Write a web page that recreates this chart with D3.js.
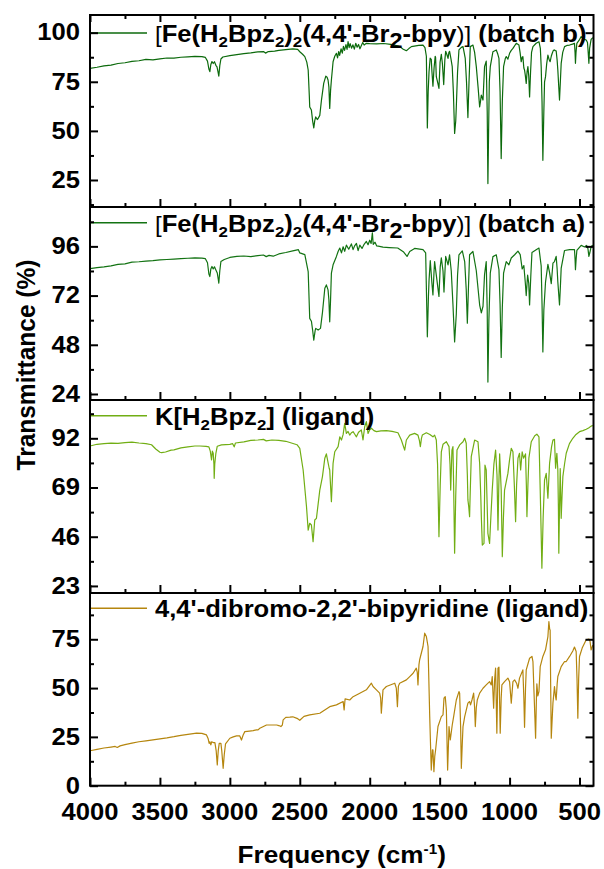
<!DOCTYPE html>
<html>
<head>
<meta charset="utf-8">
<script src="https://cdn.jsdelivr.net/npm/d3@7"></script>
<style>
  html, body { margin: 0; padding: 0; background: #fff; }
  svg { display: block; }
  text { font-family: "Liberation Sans", Arial, Helvetica, sans-serif; font-weight: bold; fill: #000; }
</style>
</head>
<body>
<svg id="chart" width="604" height="869"></svg>
<script>
// IR spectra: [wavenumber (cm-1), transmittance (%)]
const feBatchB = [
  [4000,81.8],[3950,82.4],[3900,83.1],[3850,83.5],[3800,84.3],[3750,84.7],[3700,85.4],[3650,85.7],[3600,86.4],[3550,86.2],
  [3500,86.7],[3450,87.1],[3400,87.0],[3350,87.5],[3300,87.7],[3250,87.9],[3200,87.8],[3175,87.4],[3160,85.5],[3150,81.5],
  [3143,80.2],[3136,83.8],[3128,85.3],[3119,84.3],[3110,85.2],[3100,83.4],[3092,82.6],[3085,80.2],[3079,77.9],[3072,83.2],
  [3064,86.6],[3050,87.6],[3000,88.3],[2950,88.8],[2900,89.3],[2850,89.7],[2800,90.2],[2760,90.4],[2745,89.6],[2725,90.4],
  [2680,90.6],[2650,91.0],[2600,91.4],[2550,91.8],[2515,91.5],[2500,90.3],[2480,89.0],[2464,87.8],[2450,85.0],[2440,81.0],
  [2432,68.0],[2429,62.2],[2420,61.0],[2417,60.6],[2408,55.0],[2400,51.5],[2393,55.2],[2386,57.1],[2375,55.8],[2369,56.3],
  [2357,57.9],[2345,65.7],[2329,74.2],[2314,77.9],[2305,77.3],[2298,75.9],[2292,72.4],[2286,61.4],[2280,70.5],[2274,75.9],
  [2262,85.2],[2250,88.0],[2238,89.5],[2230,87.2],[2222,90.4],[2215,88.4],[2205,91.8],[2196,89.6],[2188,93.0],[2180,91.0],
  [2170,93.9],[2162,91.5],[2155,95.4],[2147,92.4],[2140,94.4],[2130,92.1],[2120,93.8],[2110,91.6],[2100,94.6],[2090,92.6],
  [2080,94.0],[2070,91.8],[2062,93.1],[2050,95.0],[2040,93.7],[2024,94.6],[2000,94.4],[1950,94.3],[1900,94.5],[1850,94.0],
  [1800,93.3],[1786,92.9],[1760,91.6],[1738,90.8],[1720,91.9],[1702,92.9],[1650,93.5],[1619,93.7],[1605,92.4],[1595,88.0],
  [1588,51.5],[1582,70.0],[1576,80.0],[1568,87.0],[1560,86.4],[1555,80.0],[1548,72.8],[1540,82.0],[1532,88.0],[1529,87.4],
  [1524,77.6],[1515,75.0],[1505,71.6],[1497,85.0],[1488,89.0],[1480,84.0],[1471,73.6],[1463,86.0],[1457,90.5],[1449,89.0],
  [1440,86.9],[1434,90.0],[1429,90.5],[1420,87.0],[1410,82.7],[1402,70.0],[1393,48.7],[1385,55.0],[1381,62.0],[1372,80.0],
  [1362,91.2],[1345,92.5],[1333,92.9],[1325,90.0],[1317,86.9],[1308,75.0],[1298,56.8],[1290,75.0],[1281,92.9],[1262,93.7],
  [1250,90.0],[1238,82.7],[1225,72.0],[1214,62.2],[1208,65.0],[1202,68.2],[1196,67.0],[1190,65.7],[1184,75.0],[1179,82.7],
  [1167,85.5],[1160,60.0],[1155,23.2],[1150,50.0],[1145,75.0],[1138,82.7],[1119,90.3],[1095,91.2],[1084,89.0],[1076,86.9],
  [1068,70.0],[1060,35.9],[1052,65.0],[1043,82.7],[1030,87.0],[1024,87.8],[1012,86.5],[1000,89.5],[988,91.0],[976,92.0],
  [952,94.6],[933,93.7],[925,90.0],[917,85.2],[910,87.5],[905,87.8],[898,82.0],[893,81.0],[887,78.0],[881,74.2],
  [875,80.0],[869,82.7],[863,78.0],[857,67.3],[850,80.0],[843,90.0],[833,92.9],[810,94.6],[790,95.4],[780,92.0],
  [774,82.7],[768,65.0],[762,35.0],[755,60.0],[750,75.0],[743,77.6],[735,84.0],[726,88.6],[718,86.5],[710,85.2],
  [702,88.0],[695,89.5],[687,91.0],[679,91.2],[673,90.8],[667,90.8],[660,86.0],[655,81.0],[648,72.0],[643,65.7],
  [637,75.0],[631,84.4],[620,90.0],[607,92.9],[590,93.5],[571,93.7],[550,94.2],[536,94.6],[532,90.0],[529,84.4],
  [525,90.0],[519,94.6],[500,96.5],[488,98.0],[475,97.0],[464,96.6],[452,96.3],[443,95.0],[438,90.0],[433,84.4],
  [428,92.0],[417,96.6],[405,97.5]
];

const feBatchA = [
  [4000,85.1],[3950,85.6],[3900,86.0],[3850,86.5],[3800,87.2],[3750,87.5],[3700,88.3],[3650,88.5],[3600,88.8],[3550,89.0],
  [3500,89.4],[3450,89.6],[3400,89.8],[3350,90.0],[3300,90.2],[3250,90.4],[3200,90.3],[3175,90.0],[3160,88.0],[3150,82.5],
  [3143,81.3],[3136,85.0],[3128,86.2],[3119,85.0],[3110,86.0],[3100,84.5],[3090,83.0],[3083,80.0],[3079,78.1],[3072,84.0],
  [3064,88.6],[3040,89.6],[3000,90.6],[2950,91.1],[2900,91.3],[2850,91.0],[2800,91.5],[2760,91.8],[2740,91.0],[2720,91.6],
  [2690,91.2],[2650,92.3],[2600,93.0],[2550,93.8],[2510,94.4],[2500,92.8],[2464,92.0],[2440,83.7],[2429,60.9],[2417,59.5],
  [2408,55.0],[2400,50.3],[2390,55.0],[2386,56.0],[2369,55.2],[2352,56.0],[2338,63.7],[2321,75.6],[2310,77.2],[2298,74.8],
  [2292,70.0],[2286,59.2],[2280,70.0],[2274,83.0],[2262,87.0],[2238,91.1],[2226,93.5],[2214,95.2],[2202,92.8],[2190,95.8],
  [2179,93.6],[2167,96.6],[2150,94.6],[2131,97.2],[2119,94.4],[2107,96.4],[2095,97.4],[2083,93.9],[2071,96.6],[2055,95.0],
  [2040,97.0],[2024,98.4],[2012,96.8],[2000,99.0],[1990,97.4],[1981,102.6],[1975,97.0],[1962,98.0],[1950,96.2],[1930,96.0],
  [1905,95.6],[1860,95.4],[1800,95.2],[1760,93.4],[1733,91.1],[1714,93.5],[1679,95.0],[1619,94.4],[1600,92.8],[1588,51.9],
  [1580,72.0],[1576,79.3],[1567,89.0],[1555,77.8],[1548,72.3],[1540,84.0],[1536,88.6],[1524,82.0],[1505,71.6],[1496,86.0],
  [1488,90.4],[1476,84.0],[1469,73.7],[1457,91.1],[1440,87.0],[1429,91.9],[1417,84.0],[1405,67.8],[1393,49.4],[1381,63.0],
  [1372,82.0],[1362,91.9],[1338,93.8],[1321,88.6],[1310,75.0],[1302,58.5],[1294,76.0],[1286,91.9],[1262,93.5],[1238,84.1],
  [1214,67.4],[1202,63.6],[1190,66.8],[1179,82.3],[1167,88.6],[1160,65.0],[1155,29.8],[1148,60.0],[1138,83.0],[1119,91.0],
  [1095,91.9],[1076,84.6],[1068,68.0],[1060,41.8],[1052,66.0],[1043,83.0],[1024,88.6],[1005,87.0],[988,90.3],[964,91.9],
  [940,93.7],[924,92.0],[910,85.0],[898,86.6],[888,78.6],[881,72.0],[871,82.0],[863,78.0],[857,67.4],[848,82.0],
  [840,93.0],[810,94.4],[790,95.2],[774,86.4],[768,68.0],[762,44.5],[755,65.0],[743,78.6],[726,87.2],[714,83.2],
  [702,77.8],[690,87.8],[679,88.6],[667,91.1],[660,85.0],[655,78.6],[643,67.4],[637,76.0],[631,85.4],[607,94.0],
  [571,94.4],[536,94.4],[532,90.0],[529,84.6],[524,90.0],[519,94.0],[488,96.5],[464,95.7],[450,96.5],[440,95.0],
  [433,91.1],[426,93.0],[417,95.9],[405,96.5]
];

const kLigand = [
  [4000,88.4],[3950,89.2],[3900,89.5],[3850,89.7],[3800,89.6],[3750,90.0],[3700,90.2],[3650,89.8],[3600,89.5],[3560,89.0],
  [3530,87.0],[3500,85.5],[3488,85.3],[3460,85.6],[3420,86.5],[3400,86.6],[3350,87.5],[3300,88.0],[3250,88.4],[3214,88.4],
  [3170,88.2],[3150,88.0],[3140,86.0],[3131,81.9],[3125,86.0],[3119,85.0],[3114,80.0],[3112,73.3],[3108,80.0],[3100,85.0],
  [3090,88.3],[3060,88.9],[3000,89.2],[2980,89.5],[2969,88.0],[2960,89.8],[2900,90.3],[2850,91.0],[2800,91.2],[2760,91.5],
  [2740,90.8],[2700,91.2],[2650,91.0],[2600,90.6],[2560,89.8],[2520,89.0],[2500,87.3],[2476,77.2],[2452,60.0],[2440,49.1],
  [2429,52.3],[2417,51.5],[2405,43.7],[2393,53.8],[2381,54.6],[2357,67.8],[2338,74.1],[2321,82.7],[2310,84.7],[2290,78.0],
  [2286,77.2],[2274,62.4],[2262,80.3],[2250,85.7],[2226,88.1],[2214,92.7],[2202,91.2],[2190,93.8],[2179,99.0],[2167,94.3],
  [2155,95.2],[2143,93.5],[2131,94.6],[2119,95.1],[2107,93.9],[2095,92.7],[2080,94.8],[2060,95.9],[2048,91.2],[2036,97.4],
  [2024,99.8],[2012,94.3],[2000,96.0],[1988,96.7],[1970,95.6],[1952,95.1],[1920,95.5],[1881,95.6],[1840,95.2],[1798,94.6],
  [1774,91.2],[1750,86.5],[1738,91.2],[1714,93.5],[1679,94.3],[1655,93.5],[1645,91.0],[1638,88.1],[1630,92.0],[1624,93.5],
  [1595,94.6],[1570,93.8],[1548,92.7],[1536,93.5],[1524,91.2],[1515,80.0],[1505,46.0],[1496,70.0],[1488,85.7],[1476,89.2],
  [1452,90.4],[1433,88.1],[1426,80.0],[1421,67.8],[1412,86.5],[1405,88.1],[1400,70.0],[1393,38.3],[1385,65.0],[1376,86.5],
  [1357,88.9],[1333,90.4],[1321,92.0],[1310,89.7],[1302,75.0],[1298,63.2],[1292,60.0],[1286,55.4],[1280,70.0],[1274,83.4],
  [1250,91.2],[1226,90.4],[1214,80.3],[1206,65.0],[1202,55.4],[1195,42.1],[1183,42.9],[1180,60.0],[1176,79.5],[1167,77.2],
  [1160,60.0],[1155,47.6],[1143,42.9],[1134,55.0],[1124,67.8],[1112,80.0],[1100,86.5],[1090,75.0],[1083,49.1],[1077,70.0],
  [1071,84.7],[1060,67.8],[1052,36.7],[1044,55.0],[1036,67.8],[1012,75.6],[1000,82.0],[988,87.3],[976,85.7],[966,70.0],
  [957,53.0],[950,70.0],[940,82.7],[929,85.0],[921,77.2],[910,85.7],[900,82.7],[886,84.7],[880,70.0],[876,55.4],
  [869,70.0],[862,82.7],[845,90.4],[820,93.2],[805,93.9],[790,92.7],[781,67.8],[775,50.0],[769,31.3],[760,55.0],
  [750,72.5],[738,75.6],[726,64.0],[714,80.3],[700,88.0],[690,91.2],[679,91.5],[671,78.0],[662,85.0],[655,77.2],
  [651,60.0],[648,38.3],[643,60.0],[638,77.8],[631,54.6],[625,65.0],[619,74.1],[607,80.0],[595,85.0],[572,89.5],
  [548,92.0],[525,93.8],[500,95.1],[476,95.6],[452,96.2],[435,96.8],[417,97.7],[405,98.0]
];

const brBpyLigand = [
  [4000,17.9],[3950,18.6],[3900,19.3],[3850,19.8],[3820,20.1],[3805,19.6],[3785,20.4],[3750,21.0],[3700,21.8],[3650,22.5],
  [3600,23.0],[3550,23.5],[3500,24.0],[3450,24.5],[3400,25.1],[3350,25.8],[3300,26.3],[3238,26.9],[3200,26.8],[3167,26.0],
  [3155,24.0],[3148,21.7],[3143,22.5],[3136,20.9],[3130,22.5],[3119,22.1],[3107,22.1],[3098,18.0],[3090,10.6],[3083,18.0],
  [3076,21.7],[3064,21.7],[3058,18.0],[3048,8.9],[3040,16.0],[3031,21.4],[3000,24.3],[2976,25.0],[2952,25.5],[2929,25.5],
  [2917,23.4],[2905,26.0],[2893,27.7],[2860,28.0],[2833,28.2],[2810,28.6],[2798,28.6],[2786,29.4],[2760,30.3],[2738,31.1],
  [2700,31.1],[2665,31.1],[2650,30.8],[2635,30.3],[2625,31.0],[2619,33.7],[2600,35.0],[2571,35.1],[2550,35.3],[2520,34.5],
  [2500,33.5],[2470,35.5],[2429,36.3],[2357,37.1],[2286,40.5],[2238,41.4],[2190,43.1],[2183,38.8],[2176,44.5],[2143,43.9],
  [2119,45.6],[2071,47.4],[2024,49.1],[1988,52.5],[1976,50.8],[1952,49.1],[1929,47.4],[1922,45.0],[1917,37.1],[1905,49.1],
  [1881,50.8],[1821,52.5],[1810,50.0],[1802,40.5],[1795,51.0],[1786,52.5],[1738,54.2],[1714,55.9],[1690,57.6],[1667,60.2],
  [1660,58.0],[1655,51.6],[1648,62.0],[1643,64.5],[1619,71.3],[1607,78.1],[1595,76.4],[1583,71.3],[1571,35.4],[1560,8.0],
  [1552,18.3],[1548,18.3],[1541,7.2],[1535,15.0],[1529,18.3],[1512,30.3],[1488,35.4],[1476,36.3],[1469,44.8],[1460,45.6],
  [1452,38.8],[1443,8.0],[1433,30.3],[1424,23.4],[1410,31.1],[1400,35.4],[1381,43.9],[1362,48.2],[1357,47.4],[1350,30.0],
  [1345,8.9],[1338,22.0],[1333,30.3],[1321,35.4],[1298,42.3],[1286,43.1],[1279,41.4],[1269,43.9],[1257,47.4],[1250,40.0],
  [1245,30.3],[1238,40.0],[1231,43.9],[1214,47.4],[1190,49.9],[1167,51.6],[1143,53.3],[1131,51.6],[1124,55.9],[1114,39.7],
  [1107,54.2],[1100,60.2],[1091,26.9],[1083,60.2],[1076,60.7],[1067,26.9],[1060,45.0],[1055,51.6],[1036,53.3],[1012,55.1],
  [1000,53.3],[988,42.3],[976,53.3],[964,54.2],[950,52.5],[940,49.9],[929,55.1],[905,59.3],[898,45.0],[893,29.9],
  [886,50.0],[881,59.3],[857,65.3],[840,66.2],[833,63.6],[826,49.1],[819,35.0],[814,24.3],[808,45.0],[805,52.2],
  [798,46.0],[790,48.2],[781,61.0],[762,66.2],[743,69.6],[726,76.4],[719,84.1],[713,80.0],[710,79.8],[706,50.0],
  [702,24.3],[695,35.0],[690,42.3],[679,50.8],[672,46.0],[667,43.9],[660,52.0],[655,55.9],[631,61.0],[607,63.6],
  [595,63.6],[571,66.2],[548,69.0],[536,71.0],[524,68.7],[518,55.0],[512,34.6],[506,55.0],[500,66.2],[481,70.5],
  [452,74.7],[433,75.1],[425,74.0],[417,69.6],[405,72.0]
];

// Axis ticks and labels
const xMajorTicks = [4000, 3500, 3000, 2500, 2000, 1500, 1000, 500];
const xMinorTicks = [3750, 3250, 2750, 2250, 1750, 1250, 750];
const yTicksB  = [25, 50, 75, 100];
const yMinorB  = [12.5, 37.5, 62.5, 87.5];
const yTicksA  = [24, 48, 72, 96];
const yMinorA  = [36, 60, 84, 108];
const yTicksK  = [23, 46, 69, 92];
const yMinorK  = [34.5, 57.5, 80.5, 103.5];
const yTicksBr = [0, 25, 50, 75];
const yMinorBr = [12.5, 37.5, 62.5, 87.5];

const seriesLabels = [
  "[Fe(H2Bpz2)2(4,4'-Br2-bpy)] (batch b)",
  "[Fe(H2Bpz2)2(4,4'-Br2-bpy)] (batch a)",
  "K[H2Bpz2] (ligand)",
  "4,4'-dibromo-2,2'-bipyridine (ligand)"
];
const xTitle = "Frequency (cm";
const yTitle = "Transmittance (%)";

// ---------- layout ----------
const svg = d3.select("#chart");
const left = 90, right = 593.5;
const stretch = 1.09;     // horizontal text stretch
const fs = 23.5;          // tick/legend font size

const x = d3.scaleLinear().domain([4000, 400]).range([left, right]);

const panels = [
  { data: feBatchB,    color: "#0c6a0c", top: 15,    bottom: 207,   domain: [11.25, 109.0], ticks: yTicksB,  minor: yMinorB,  legendY: 33,    label: seriesLabels[0] },
  { data: feBatchA,    color: "#137313", top: 207,   bottom: 400,   domain: [21.07, 115.2], ticks: yTicksA,  minor: yMinorA,  legendY: 222.7, label: seriesLabels[1] },
  { data: kLigand,     color: "#71ae14", top: 400,   bottom: 593,   domain: [19.7, 109.9],  ticks: yTicksK,  minor: yMinorK,  legendY: 415.7, label: seriesLabels[2] },
  { data: brBpyLigand, color: "#b5860e", top: 593,   bottom: 785.7, domain: [0, 98.7],      ticks: yTicksBr, minor: yMinorBr, legendY: 608.3, label: seriesLabels[3] }
];

// legend label pieces: n = normal, s = small subscript, l = lowered full-size digit, t = thin bracket
function labelParts(label) {
  if (label.startsWith("[Fe")) {
    const tail = label.slice(label.indexOf(" ("));
    return [["t","["],["n","Fe(H"],["s","2"],["n","Bpz"],["s","2"],["n",")"],["s","2"],
            ["n","(4,4'-Br"],["l","2"],["n","-bpy"],["t",")]"],["n",tail]];
  }
  if (label.startsWith("K[")) {
    return [["n","K[H"],["s","2"],["n","Bpz"],["s","2"],["n","] (ligand)"]];
  }
  return [["n", label]];
}

const defs = svg.append("defs");

panels.forEach((p, i) => {
  const y = d3.scaleLinear().domain(p.domain).range([p.bottom, p.top]);
  const g = svg.append("g");

  defs.append("clipPath").attr("id", "clip" + i)
    .append("rect").attr("x", left).attr("y", p.top).attr("width", right - left).attr("height", p.bottom - p.top);

  // spectrum
  const line = d3.line().x(d => x(d[0])).y(d => y(d[1]));
  g.append("path").datum(p.data)
    .attr("clip-path", `url(#clip${i})`)
    .attr("fill", "none").attr("stroke", p.color).attr("stroke-width", 1.2)
    .attr("stroke-linejoin", "round")
    .attr("d", line);

  // legend
  g.append("line").attr("x1", left).attr("x2", 147).attr("y1", p.legendY).attr("y2", p.legendY)
    .attr("stroke", p.color).attr("stroke-width", 1.4);
  const txt = g.append("text")
    .attr("transform", `translate(155,${p.legendY + 9}) scale(${stretch},1)`)
    .style("font-size", fs + "px");
  let shift = 0;
  labelParts(p.label).forEach(([kind, s]) => {
    let target = 0, size = fs, weight = "bold";
    if (kind === "s") { target = 5; size = 15.5; }
    if (kind === "l") { target = 6; size = 21.5; }
    if (kind === "t") { size = 22; weight = "normal"; target = 0; }
    txt.append("tspan").attr("dy", target - shift)
      .style("font-size", size + "px").style("font-weight", weight).text(s);
    shift = target;
  });

  // y axes (left: labels, right: mirror)
  const yAxisL = d3.axisRight(y).tickValues(p.ticks).tickSize(8).tickFormat("");
  const yMinorL = d3.axisRight(y).tickValues(p.minor).tickSize(4).tickFormat("");
  const yAxisR = d3.axisLeft(y).tickValues(p.ticks).tickSize(8).tickFormat("");
  const yMinorR = d3.axisLeft(y).tickValues(p.minor.filter(v => y(v) > p.top + 1)).tickSize(4).tickFormat("");
  [[yAxisL, left], [yMinorL, left], [yAxisR, right], [yMinorR, right]].forEach(([ax, xp]) => {
    const a = g.append("g").attr("transform", `translate(${xp},0)`).call(ax);
    a.select(".domain").remove();
    a.selectAll("line").attr("stroke", "#000").attr("stroke-width", 2);
  });
  g.selectAll(null).data(p.ticks).enter().append("text")
    .attr("transform", d => `translate(80,${y(d) + 7.8}) scale(${stretch},1)`)
    .attr("text-anchor", "end").style("font-size", fs + "px")
    .text(d => d);

  // x ticks along the panel bottom (pointing up)
  const xAxisB = d3.axisTop(x).tickValues(xMajorTicks).tickSize(8).tickFormat("");
  const xMinorB = d3.axisTop(x).tickValues(xMinorTicks).tickSize(4).tickFormat("");
  [xAxisB, xMinorB].forEach(ax => {
    const a = g.append("g").attr("transform", `translate(0,${p.bottom})`).call(ax);
    a.select(".domain").remove();
    a.selectAll("line").attr("stroke", "#000").attr("stroke-width", 2);
  });
  if (i === 0) {
    const xAxisT = d3.axisBottom(x).tickValues(xMajorTicks).tickSize(7).tickFormat("");
    const xMinorT = d3.axisBottom(x).tickValues(xMinorTicks).tickSize(4).tickFormat("");
    [xAxisT, xMinorT].forEach(ax => {
      const a = g.append("g").attr("transform", `translate(0,${p.top})`).call(ax);
      a.select(".domain").remove();
      a.selectAll("line").attr("stroke", "#000").attr("stroke-width", 2);
    });
  }

  // frame
  g.append("rect").attr("x", left).attr("y", p.top).attr("width", right - left).attr("height", p.bottom - p.top)
    .attr("fill", "none").attr("stroke", "#000").attr("stroke-width", 2);
});

// x tick labels under the bottom panel
const last = panels[panels.length - 1];
svg.append("g").selectAll("text").data(xMajorTicks).enter().append("text")
  .attr("transform", d => `translate(${x(d)},${last.bottom + 34}) scale(${stretch},1)`)
  .attr("text-anchor", "middle").style("font-size", fs + "px")
  .text(d => d);

// axis titles
const xt = svg.append("text")
  .attr("transform", `translate(${(left + right) / 2},863) scale(${stretch},1)`)
  .attr("text-anchor", "middle").style("font-size", "24px");
xt.append("tspan").text(xTitle);
xt.append("tspan").attr("dy", -9).style("font-size", "14px").text("-1");
xt.append("tspan").attr("dy", 9).text(")");

svg.append("text")
  .attr("transform", `translate(35,365) scale(${stretch},1) rotate(-90)`)
  .attr("text-anchor", "middle").style("font-size", "24.5px")
  .text(yTitle);
</script>
</body>
</html>
